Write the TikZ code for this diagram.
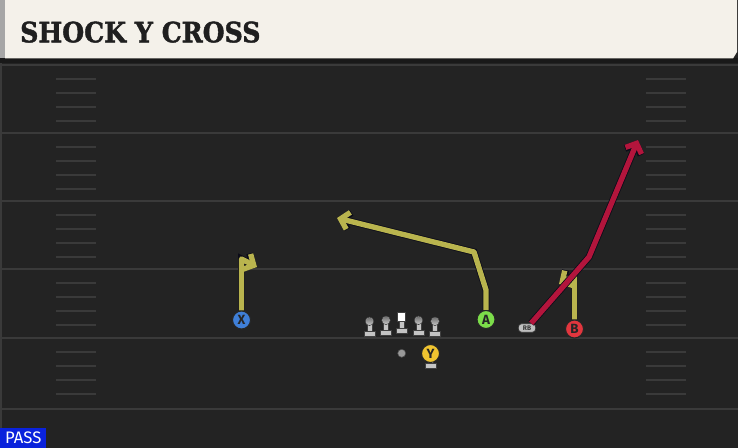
\documentclass[tikz,border=0pt]{standalone}
\usepackage{fontspec}
\setsansfont{Fira Sans}
\newfontfamily\titlefont{DejaVu Serif}[BoldFeatures={FakeBold=1.6}]
\usetikzlibrary{arrows.meta}
\definecolor{field}{HTML}{232323}
\definecolor{yardgray}{HTML}{3A3A3A}
\definecolor{cream}{HTML}{F4F1EA}
\definecolor{routeyellow}{HTML}{B9B44E}
\definecolor{routered}{HTML}{B3153C}
\definecolor{routeedge}{HTML}{0B0B18}
\definecolor{xblue}{HTML}{3F7FD8}
\definecolor{agreen}{HTML}{7CDD4A}
\definecolor{yyellow}{HTML}{F0C430}
\definecolor{bred}{HTML}{E2363E}
\definecolor{pawngray}{HTML}{C4C4C4}
\definecolor{passblue}{HTML}{0A22DC}
\tikzstyle{player}=[draw=black!85,circle,line width=.8pt,minimum size=13.5pt,
  inner sep=0pt,font=\sffamily\bfseries\fontsize{10}{10}\selectfont,text=black!85]
\tikzstyle{route}=[line width=4pt,color=routeyellow,line join=round,
  -{Straight Barb[length=6pt,width=13pt]},
  preaction={draw=routeedge,line width=5.2pt}]
\tikzstyle{yardline}=[draw=yardgray,line width=1.5pt]
\tikzstyle{hash}=[draw=yardgray,line width=1.5pt]
\tikzstyle{pawn}=[fill=pawngray,draw=black!75,line width=.5pt]

\begin{document}
\begin{tikzpicture}[x=.75pt,y=-.75pt]
  \useasboundingbox (0,0) rectangle (738,448);
  \fill[field] (0,0) rectangle (738,448);

  % yard lines and hash marks
  \foreach \y in {65.5,133.5,201.5,269.5,338.5,408.5}
    \draw[yardline] (0,\y) -- (738,\y);
  \foreach \y in {65.5,133.5,201.5,269.5,338.5}
    \foreach \k in {1,...,4} {
      \draw[hash] (56,\y+\k*13.8) -- (96,\y+\k*13.8);
      \draw[hash] (646,\y+\k*13.8) -- (686,\y+\k*13.8);
    }
  \draw[yardgray,line width=1pt] (1,60) -- (1,448);

  % header
  \fill[black!90] (0,58) rectangle (738,63);
  \fill[cream] (5,0) -- (737,0) -- (737,52) -- (733,58.5) -- (5,58.5) -- cycle;
  \fill[black!35] (0,0) rectangle (5,58.5);
  \node[anchor=base west,inner sep=0pt,xscale=.9,
    font=\titlefont\bfseries\fontsize{21}{21}\selectfont,
    text=black!88] (title) at (20,42.3) {SHOCK Y CROSS};

  % line
  \foreach \px/\dy in {369.5/0,386/-1,418.5/-1,435/0} {
    \draw[pawn] (\px-2.5,323+\dy) rectangle (\px+2.5,332+\dy);
    \draw[pawn] (\px-5.5,331+\dy) rectangle (\px+5.5,336+\dy);
    \draw[pawn] (\px,321.3+\dy) circle (4.2);
    \shade[top color=black!55,bottom color=pawngray] (\px,321.3+\dy) circle (3.7);
  }
  \draw[pawn] (399,321) rectangle (404,328.5);
  \draw[pawn] (396,328) rectangle (407.5,333);
  \draw[pawn,fill=white] (397.5,312.5) rectangle (405.5,321);
  \fill[gray!80,draw=black!70,line width=.4pt] (401.7,353.3) circle (4);

  % Y pedestal
  \draw[pawn] (428,360) rectangle (433,364);
  \draw[pawn] (425,363.5) rectangle (436.5,368);

  % players
  \node[player,fill=xblue] (X) at (241.5,320) {X};
  \node[player,fill=agreen] (A) at (486,319.5) {A};
  \node[player,fill=yyellow] (Y) at (430.5,353.5) {Y};
  \node[player,fill=bred] (B) at (574.5,329) {B};
  \node[draw=black!80,fill=black!25,rounded corners=2.5pt,line width=.6pt,
    minimum width=13pt,minimum height=6.5pt,inner sep=0pt,text=black!80,
    font=\sffamily\bfseries\fontsize{5}{5}\selectfont] (RB) at (527,328) {RB};

  % routes
  \coordinate (xturn) at (241.5,259);
  \coordinate (xend) at (257,267);
  \coordinate (aup) at (486,290);
  \coordinate (aturn) at (474,252);
  \coordinate (aend) at (337,218);
  \coordinate (bturn) at (574.5,275);
  \coordinate (bend) at (559,284);
  \coordinate (rbturn) at (589,257);
  \coordinate (rbend) at (638,140);

  \draw[route] (X.north) -- (xturn) -- (xend);
  \draw[route] (A.north) -- (aup) -- (aturn) -- (aend);
  \draw[route] (B.north) -- (bturn) -- (bend);
  \draw[route,color=routered] (RB) -- (rbturn) -- (rbend);

  % play type
  \node[fill=passblue,anchor=south west,minimum width=34.5pt,minimum height=15pt,
    inner sep=0pt,text=white,font=\sffamily\fontsize{12.5}{12.5}\selectfont]
    (pass) at (0,448) {PASS};
\end{tikzpicture}
\end{document}
